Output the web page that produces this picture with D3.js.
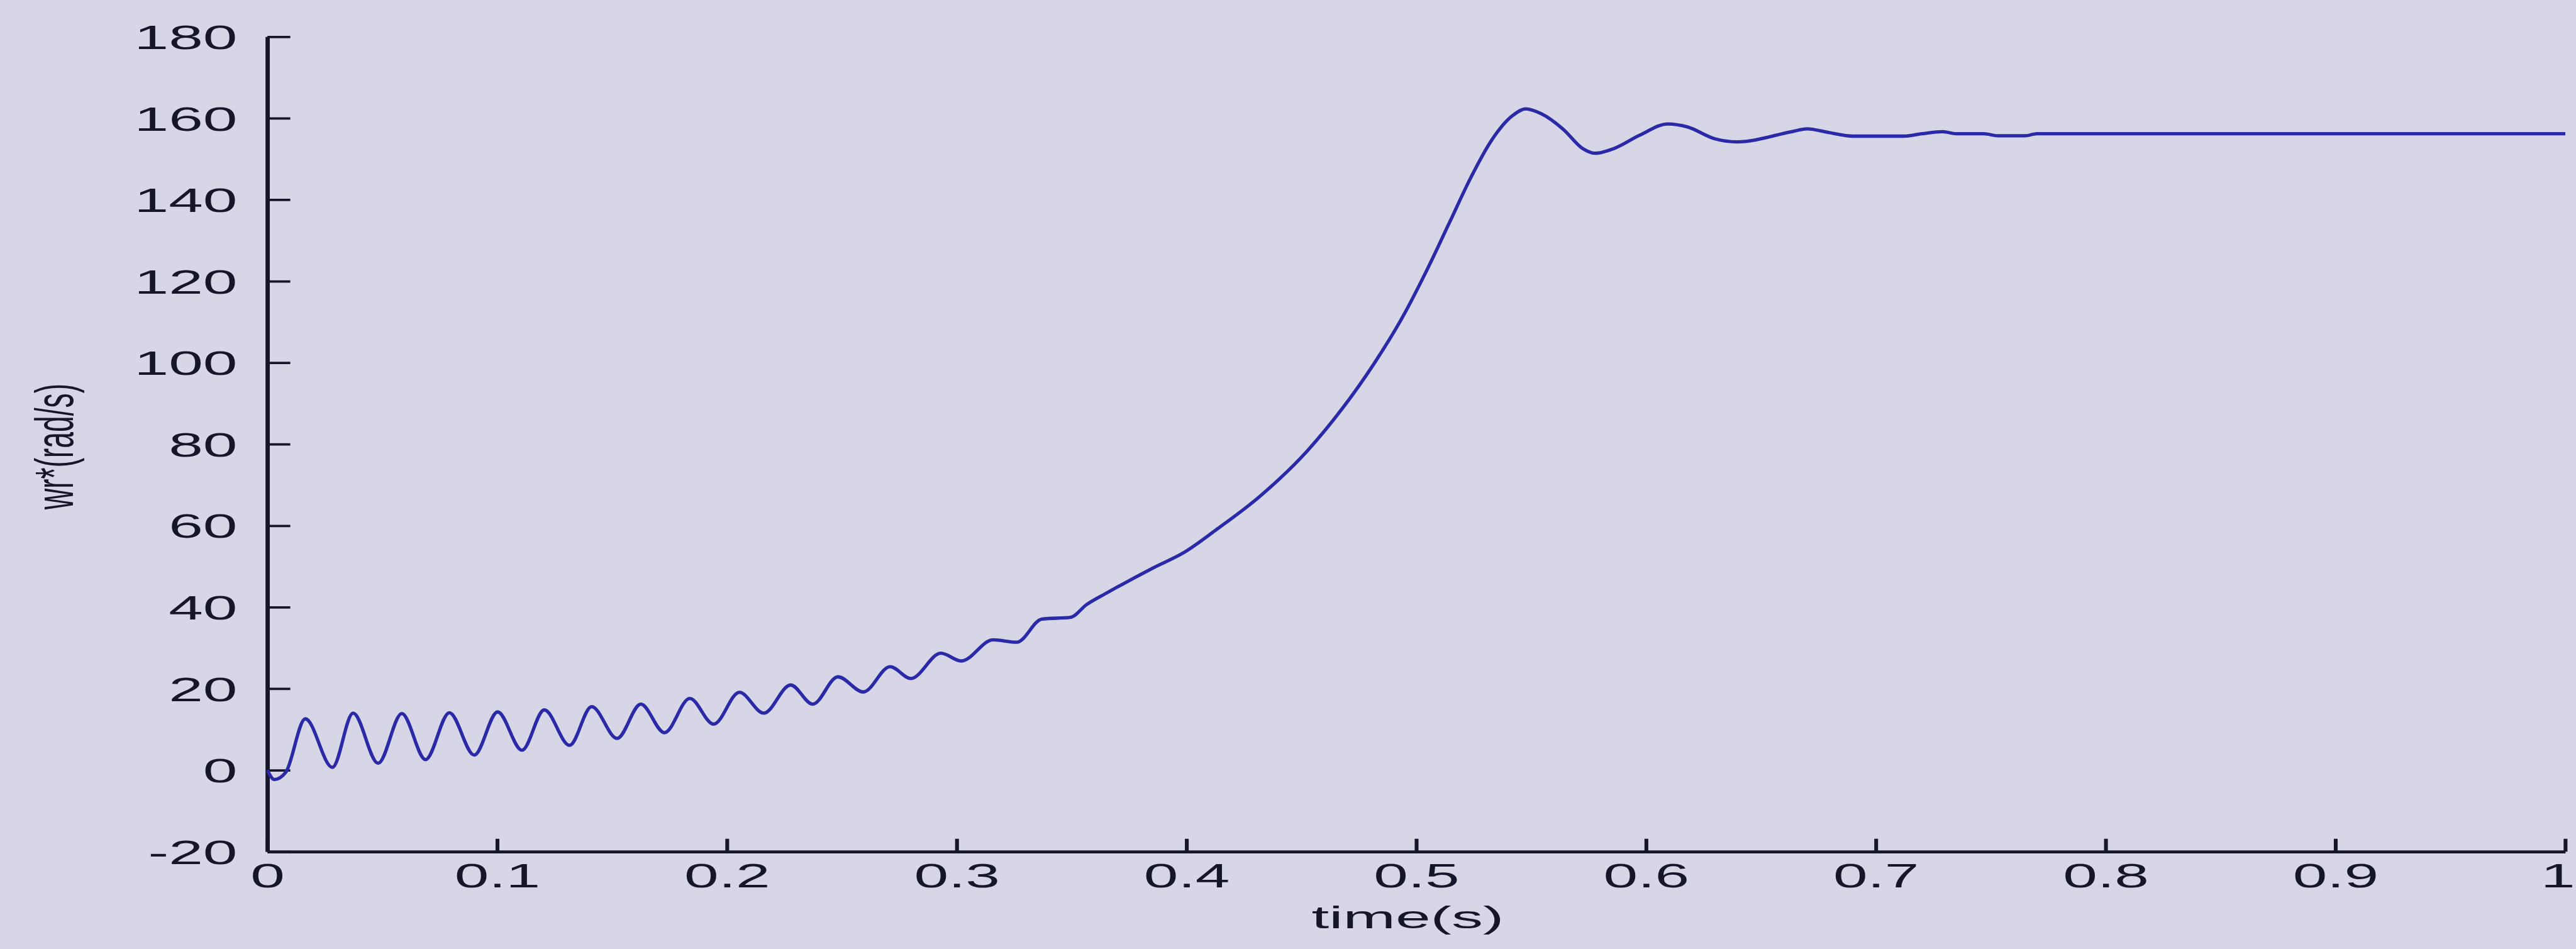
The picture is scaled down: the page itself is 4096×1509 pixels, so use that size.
<!DOCTYPE html>
<html>
<head>
<meta charset="utf-8">
<script src="https://cdn.jsdelivr.net/npm/d3@7"></script>
<style>
  html, body { margin: 0; padding: 0; background: #d7d6e6; overflow: hidden; }
  svg { display: block; }
</style>
</head>
<body>
<svg id="chart"></svg>
<script>
// Rotor speed response wr* (rad/s) over the first second of the run
const timeSec = [
  0, 0.003, 0.008, 0.0165, 0.0283, 0.0373, 0.0482, 0.0585, 0.0688, 0.0792,
  0.0900, 0.1002, 0.1108, 0.1205, 0.1315, 0.1411, 0.1522, 0.1625, 0.1728, 0.1838,
  0.1942, 0.2054, 0.2160, 0.2277, 0.2373, 0.2483, 0.2593, 0.2710, 0.2800, 0.2931,
  0.3020, 0.3158, 0.3261, 0.3371, 0.3495, 0.3564, 0.3653, 0.3853, 0.3991, 0.4129,
  0.4319, 0.4526, 0.4677, 0.4815, 0.4939, 0.5049, 0.5145, 0.5235, 0.5324, 0.5420,
  0.5476, 0.5544, 0.5641, 0.5723, 0.5779, 0.5861, 0.5971, 0.6095, 0.6178, 0.6302,
  0.6395, 0.6634, 0.6700, 0.6793, 0.6900, 0.7120, 0.7200, 0.7290, 0.7350, 0.7470,
  0.7530, 0.7650, 0.7700, 1.0000
];
const speed = [
  0, -2.3, -0.5, 12.6, 0.7, 14.0, 1.7, 13.9, 2.6, 14.1,
  3.7, 14.3, 4.9, 14.8, 6.1, 15.6, 7.8, 16.2, 9.2, 17.6,
  11.3, 19.1, 14.0, 20.9, 16.2, 22.9, 19.2, 25.4, 22.5, 28.7,
  26.8, 32.0, 31.4, 37.1, 37.5, 40.6, 43.5, 49.6, 53.5, 59.0,
  67.2, 78.4, 88.7, 99.7, 111.1, 123.1, 134.5, 145.2, 154.3, 160.7,
  162.3, 161.1, 157.2, 152.6, 151.4, 152.6, 155.8, 158.6, 157.9, 154.9,
  154.2, 156.7, 157.4, 156.5, 155.6, 155.6, 156.2, 156.7, 156.2, 156.2,
  155.7, 155.7, 156.2, 156.2
];

const xTicks = [0, 0.1, 0.2, 0.3, 0.4, 0.5, 0.6, 0.7, 0.8, 0.9, 1];
const xTickLabels = ["0", "0.1", "0.2", "0.3", "0.4", "0.5", "0.6", "0.7", "0.8", "0.9", "1"];
const yTicks = [-20, 0, 20, 40, 60, 80, 100, 120, 140, 160, 180];
const yTickLabels = ["-20", "0", "20", "40", "60", "80", "100", "120", "140", "160", "180"];
const xTitle = "time(s)";
const yTitle = "wr*(rad/s)";

// drawing space (viewBox) and on-screen size
const W = 5398, H = 1989;
const BG = "#d7d6e6", INK = "#16162a", LINE = "#2a2aa8";
const FONT = "'Liberation Sans', Arial, Helvetica, sans-serif";
const TX = 1.85; // horizontal widening of the lettering

const svg = d3.select("#chart")
  .attr("width", 4096).attr("height", 1509)
  .attr("viewBox", `0 0 ${W} ${H}`);

svg.append("rect").attr("width", W).attr("height", H).attr("fill", BG);

const x = d3.scaleLinear().domain([0, 1]).range([560, 5376]);
const y = d3.scaleLinear().domain([-20, 180]).range([1785, 77]);

// left axis, ticks pointing into the plot
const gy = svg.append("g")
  .attr("transform", `translate(${x(0)},0)`)
  .call(d3.axisLeft(y).tickValues(yTicks).tickFormat((d, i) => yTickLabels[i])
    .tickSizeInner(-48).tickSizeOuter(0));
gy.attr("font-family", FONT).attr("font-size", 70);
gy.select(".domain").attr("stroke", INK).attr("stroke-width", 9);
gy.selectAll(".tick line").attr("stroke", INK).attr("stroke-width", 5);
gy.selectAll(".tick text")
  .attr("fill", INK)
  .attr("x", -63 / TX).attr("dy", "0.36em")
  .attr("transform", `scale(${TX},1)`);

// bottom axis
const gx = svg.append("g")
  .attr("transform", `translate(0,${y(-20)})`)
  .call(d3.axisBottom(x).tickValues(xTicks).tickFormat((d, i) => xTickLabels[i])
    .tickSizeInner(-27).tickSizeOuter(0));
gx.attr("font-family", FONT).attr("font-size", 70);
gx.select(".domain").attr("stroke", INK).attr("stroke-width", 6);
gx.selectAll(".tick line").attr("stroke", INK).attr("stroke-width", 8);
gx.selectAll(".tick text")
  .attr("fill", INK)
  .attr("y", 75).attr("dy", null)
  .attr("transform", `scale(${TX},1)`);
// the last label sits against the right edge: keep it inside the frame
gx.selectAll(".tick text").filter(d => d === 1)
  .attr("text-anchor", "end")
  .attr("x", (W - 2 - x(1)) / TX);

// axis titles
svg.append("text")
  .attr("transform", "translate(2950,1945) scale(2.0,1)")
  .attr("text-anchor", "middle")
  .attr("font-family", FONT).attr("font-size", 66).attr("fill", INK)
  .text(xTitle);

svg.append("text")
  .attr("transform", "translate(153,936) scale(1.85,1) rotate(-90)")
  .attr("text-anchor", "middle")
  .attr("font-family", FONT).attr("font-size", 61).attr("fill", INK)
  .text(yTitle);

// speed trace
const pts = timeSec.map((t, i) => [t, speed[i]]);
svg.append("path")
  .datum(pts)
  .attr("fill", "none")
  .attr("stroke", LINE)
  .attr("stroke-width", 7)
  .attr("stroke-linejoin", "round")
  .attr("d", d3.line().x(d => x(d[0])).y(d => y(d[1])).curve(d3.curveMonotoneX));
</script>
</body>
</html>
